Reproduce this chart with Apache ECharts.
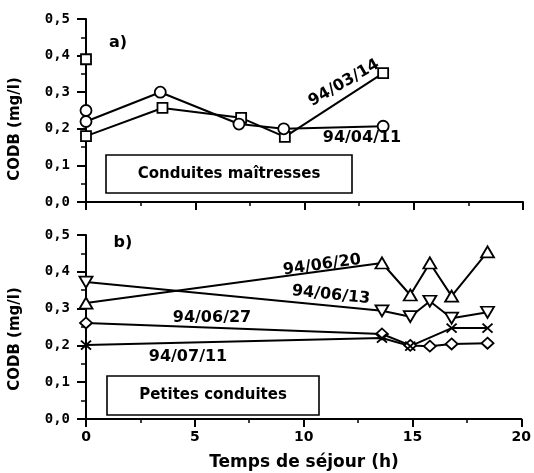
<!DOCTYPE html>
<html>
<head>
<meta charset="utf-8">
<script src="https://cdn.jsdelivr.net/npm/echarts@6/dist/echarts.min.js"></script>
<style>
html,body{margin:0;padding:0;background:#fff;}
#chart{width:534px;height:473px;}
</style>
</head>
<body>
<div id="chart"></div>
<script>
// panel a) conduites maitresses
var hours0314 = [0, 0, 3.5, 7.1, 9.1, 13.6];
var cod0314 = [0.39, 0.18, 0.257, 0.23, 0.178, 0.352];
var hours0411 = [0, 0, 3.4, 7.0, 9.05, 13.6];
var cod0411 = [0.25, 0.22, 0.30, 0.213, 0.20, 0.207];
// panel b) petites conduites
var hoursB = [0, 13.6, 14.9, 15.8, 16.8, 18.45];
var cod0620 = [0.315, 0.424, 0.337, 0.424, 0.334, 0.454];
var cod0613 = [0.372, 0.294, 0.278, 0.32, 0.274, 0.29];
var cod0627 = [0.261, 0.231, 0.2, 0.198, 0.204, 0.206];
var hours0711 = [0, 13.6, 14.9, 16.8, 18.45];
var cod0711 = [0.201, 0.22, 0.198, 0.247, 0.247];

var xTicks = [0, 5, 10, 15, 20];
var yTicks = [0, 0.1, 0.2, 0.3, 0.4, 0.5];

var FONT = 'DejaVu Sans';
var MONO = 'DejaVu Sans Mono';

function pairs(xs, ys){
	var out = [];
	for (var i = 0; i < xs.length; i++) out.push([xs[i], ys[i]]);
	return out;
}

function xAxisCfg(idx, showLabel){
	return {
		type: 'value', gridIndex: idx,
		min: xTicks[0], max: xTicks[xTicks.length - 1], interval: xTicks[1] - xTicks[0],
		axisLine: { show: true, onZero: false, lineStyle: { color: '#000', width: 2 } },
		axisTick: { show: true, inside: false, length: 8, lineStyle: { color: '#000', width: 2 } },
		minorTick: { show: true, splitNumber: 2, length: 4, lineStyle: { color: '#000', width: 1.5 } },
		splitLine: { show: false },
		axisLabel: { show: showLabel, margin: 11, color: '#000', fontFamily: FONT, fontWeight: 'bold', fontSize: 14 }
	};
}
function yAxisCfg(idx){
	return {
		type: 'value', gridIndex: idx,
		min: yTicks[0], max: yTicks[yTicks.length - 1], interval: yTicks[1] - yTicks[0],
		axisLine: { show: true, onZero: false, lineStyle: { color: '#000', width: 2 } },
		axisTick: { show: true, inside: false, length: 9, lineStyle: { color: '#000', width: 2 } },
		minorTick: { show: true, splitNumber: 2, length: 5, lineStyle: { color: '#000', width: 1.5 } },
		splitLine: { show: false },
		axisLabel: {
			margin: 16, color: '#000', fontFamily: MONO, fontWeight: 'bold', fontSize: 14,
			formatter: function(v){ return v.toFixed(1).replace('.', ','); }
		}
	};
}

function lineSeries(idx, data, symbol, size){
	return {
		type: 'line', xAxisIndex: idx, yAxisIndex: idx,
		data: data, symbol: symbol, symbolSize: size, clip: false,
		lineStyle: { color: '#000', width: 2 },
		itemStyle: { color: '#fff', borderColor: '#000', borderWidth: 1.8 },
		animation: false
	};
}

function label(txt, x, y, size, rot){
	return {
		type: 'text', x: x, y: y, rotation: (rot || 0) * Math.PI / 180, z: 10,
		style: { text: txt, fill: '#000', font: 'bold ' + size + 'px "' + FONT + '"', align: 'center', verticalAlign: 'middle' }
	};
}
function box(x, y, w, h, txt){
	return [
		{ type: 'rect', shape: { x: x, y: y, width: w, height: h }, z: 5,
		  style: { fill: '#fff', stroke: '#000', lineWidth: 1.6 } },
		label(txt, x + w / 2, y + h / 2, 15)
	];
}

var downTri = 'path://M0,0L10,0L5,9Z';
var cross = 'path://M0,0L10,10M10,0L0,10';

var myChart = echarts.init(document.getElementById('chart'), null, { renderer: 'canvas' });
var option = {
	backgroundColor: '#fff',
	grid: [
		{ left: 86, top: 19, width: 437, height: 183 },
		{ left: 86, top: 235, width: 437, height: 184 }
	],
	xAxis: [xAxisCfg(0, false), xAxisCfg(1, true)],
	yAxis: [yAxisCfg(0), yAxisCfg(1)],
	series: [
		lineSeries(0, pairs(hours0314, cod0314), 'rect', 10),
		lineSeries(0, pairs(hours0411, cod0411), 'circle', 11),
		lineSeries(1, pairs(hoursB, cod0620), 'triangle', [13, 11]),
		lineSeries(1, pairs(hoursB, cod0613), downTri, [13, 11]),
		lineSeries(1, pairs(hoursB, cod0627), 'diamond', [12, 11]),
		lineSeries(1, pairs(hours0711, cod0711), cross, [10, 9])
	],
	graphic: [].concat(
		box(106, 155, 246, 38, 'Conduites maîtresses'),
		box(107, 376, 212, 39, 'Petites conduites'),
		[
			label('a)', 118, 43, 16),
			label('b)', 123, 243, 16),
			label('94/03/14', 344, 83, 16, 30),
			label('94/04/11', 362, 138, 16),
			label('94/06/20', 322, 265, 16, 8),
			label('94/06/13', 331, 295, 16, -6),
			label('94/06/27', 212, 318, 16),
			label('94/07/11', 188, 357, 16),
			label('CODB (mg/l)', 15, 129, 15, 90),
			label('CODB (mg/l)', 15, 339, 15, 90),
			label('Temps de séjour (h)', 304, 463, 17)
		]
	)
};
myChart.setOption(option);
</script>
</body>
</html>
